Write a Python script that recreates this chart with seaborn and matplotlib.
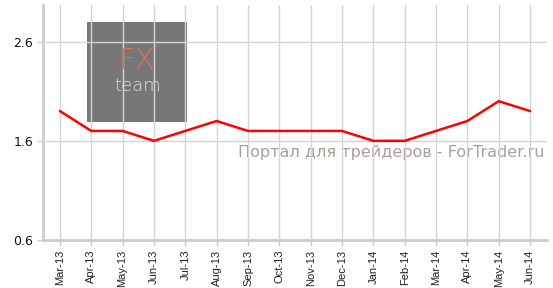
import matplotlib
matplotlib.use("Agg")
import matplotlib.pyplot as plt
import seaborn as sns
import pandas as pd
from matplotlib.patches import Rectangle

months = ["Mar-13", "Apr-13", "May-13", "Jun-13", "Jul-13", "Aug-13", "Sep-13", "Oct-13",
          "Nov-13", "Dec-13", "Jan-14", "Feb-14", "Mar-14", "Apr-14", "May-14", "Jun-14"]
values = [1.9, 1.7, 1.7, 1.6, 1.7, 1.8, 1.7, 1.7, 1.7, 1.7, 1.6, 1.6, 1.7, 1.8, 2.0, 1.9]
yticks = [0.6, 1.6, 2.6]
watermark = "Портал для трейдеров - ForTrader.ru"

sns.set_theme(style="white")
plt.rcParams['font.family'] = ['DejaVu Sans']

df = pd.DataFrame({"idx": range(len(months)), "month": months, "value": values})

fig = plt.figure(figsize=(5.53, 2.88), dpi=100)
ax = fig.add_axes([43/553, 48/288, (547-43)/553, (283-48)/288])
ax.set_facecolor("white")

# logo box (drawn under gridlines)
ax.add_patch(Rectangle((87, 288-122), 100, 100, transform=None, facecolor="#777777",
                       edgecolor="none", zorder=0))
fig.text(137/553, (288-61)/288, "FX", color="#d9705c", fontsize=21, ha="center", va="center",
         family="DejaVu Sans", fontweight="light", zorder=1)
fig.text(137/553, (288-86)/288, "team", color="#dddddd", fontsize=13, ha="center", va="center",
         family="DejaVu Sans", fontweight="light", zorder=1)

sns.lineplot(data=df, x="idx", y="value", color="#ff0000", linewidth=1.8, ax=ax, zorder=3,
             sort=False)

ax.set_xlim(-0.54, 15.54)
ax.set_ylim(0.6, 2.97)
ax.set_xticks(range(len(months)))
ax.set_xticklabels(months, rotation=90, fontsize=8, family="Liberation Sans", color="#222222")
ax.set_yticks(yticks)
ax.set_yticklabels([f"{v:.1f}" for v in yticks], fontsize=9, color="#111111")
ax.set_xlabel("")
ax.set_ylabel("")

ax.grid(True, color="#d4d4d4", linewidth=1)
ax.set_axisbelow(False)
for line in ax.get_xgridlines() + ax.get_ygridlines():
    line.set_zorder(2)

for s in ["top", "right"]:
    ax.spines[s].set_visible(False)
for s in ["left", "bottom"]:
    ax.spines[s].set_color("#cccccc")
    ax.spines[s].set_linewidth(2)

ax.tick_params(axis="y", left=True, length=4, width=1, color="#cccccc", pad=3)
ax.tick_params(axis="x", bottom=True, length=4, width=1, color="#cccccc", pad=3)

ax.text(391/553, (288-153)/288, watermark, transform=fig.transFigure, color="#a89f9b",
        fontsize=11.5, ha="center", va="center", family="DejaVu Sans", zorder=2.5)

fig.savefig("out.png", dpi=100)
